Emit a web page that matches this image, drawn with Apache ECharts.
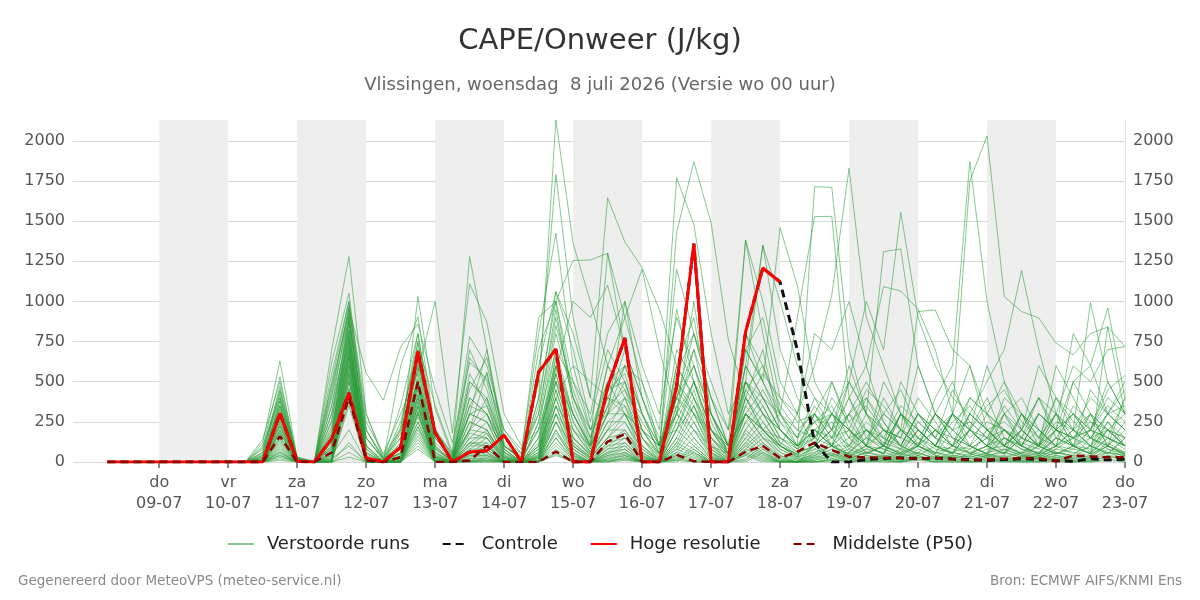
<!DOCTYPE html>
<html>
<head>
<meta charset="utf-8">
<script src="https://cdn.jsdelivr.net/npm/echarts@6/dist/echarts.min.js"></script>
<style>
  html, body { margin: 0; padding: 0; background: #fff; }
  #chart { width: 1200px; height: 600px; }
</style>
</head>
<body>
<div id="chart"></div>
<script>
// tijdstappen: uren na wo 08-07 00 uur, elke 6 uur (06 .. 360)
var hours = [];
for (var i = 0; i < 60; i++) { hours.push(6 + 6 * i); }

// dagtikken (uren) en hun labels
var dayTicks = [24, 48, 72, 96, 120, 144, 168, 192, 216, 240, 264, 288, 312, 336, 360];
var dayLabels = ['do\n09-07', 'vr\n10-07', 'za\n11-07', 'zo\n12-07', 'ma\n13-07', 'di\n14-07', 'wo\n15-07',
  'do\n16-07', 'vr\n17-07', 'za\n18-07', 'zo\n19-07', 'ma\n20-07', 'di\n21-07', 'wo\n22-07', 'do\n23-07'];
var yTicks = [0, 250, 500, 750, 1000, 1250, 1500, 1750, 2000];

// grijze banden (dag, uren)
var bands = [[24, 48], [72, 96], [120, 144], [168, 192], [216, 240], [264, 288], [312, 336]];

// Hoge resolutie (stopt na 18-07 00 uur)
var hogeResolutie = [0,0,0,0,0,0,0,0,0, 0,303,5,0, 145,430,25,0, 92,690,182,0, 62,70,168,0,
  560,703,0,0, 465,772,0,0, 469,1360,0,0, 810,1208,1121];

// Controle
var controle = [0,0,0,0,0,0,0,0,0, 0,303,5,0, 145,430,25,0, 92,690,182,0, 62,70,168,0,
  560,703,0,0, 465,772,0,0, 469,1360,0,0, 810,1208,1121,
  698,118,0,0,15,22,25,20,25,18,15,10,15,20,15,8,5,20,12,18];

// Middelste (P50)
var middelste = [0,0,0,0,0,0,0,0,0, 0,160,0,0, 60,400,10,0, 30,500,0,0, 10,100,0,0,
  0,65,0,0, 127,174,0,0, 44,5,0,0, 64,100,25,64,
  120,75,33,28,25,25,22,25,18,12,15,20,25,22,5,40,35,30,30];

// Verstoorde runs (50 leden)
var verstoordeRuns = [
  [0,0,0,0,0,0,5,10,0, 120,630,25,0, 150,880,60,0, 120,640,90,0, 500,380,60,0, 350,1060,700,250, 700,500,150,0, 600,900,300,50, 400,700,200,80, 300,150,400,600,250,100,300,150,50,200,400,150,100,50,200,300,150,100,250],
  [0,0,0,0,0,0,0,0,0, 90,530,10,0, 700,1280,300,40, 200,500,150,20, 200,560,100,20, 500,1790,900,400, 300,600,500,100, 950,500,200,80, 1380,800,300,100, 200,100,500,300,150,80,200,100,300,600,200,100,50,150,300,100,50,200,150],
  [0,0,0,0,0,0,0,0,0, 140,500,30,5, 620,1050,200,20, 100,1030,330,40, 300,700,150,50, 800,1425,600,200, 400,600,300,50, 1430,1870,1490,760, 400,200,100,300, 100,500,250,100,50,300,150,50,100,200,100,50,150,400,200,100,300,200,100],
  [0,0,0,0,0,0,0,0,0, 60,470,20,0, 350,950,555,385, 717,860,450,120, 620,520,200,80, 300,900,400,150, 500,300,200,100, 300,700,400,100, 600,1350,700,400, 250,100,300,400,200,150,600,300,150,100,300,500,200,100,300,150,200,400,300],
  [0,0,0,0,0,0,0,0,0, 30,440,15,0, 500,1000,100,10, 600,905,200,50, 1280,700,100,10, 400,2130,1360,1000, 600,400,300,100, 400,300,150,50, 700,500,1460,1100, 500,300,200,100,50,200,100,300,150,50,100,200,100,50,150,100,50,100,200],
  [0,0,0,0,0,0,0,0,0, 100,420,10,0, 450,960,250,50, 300,560,1000,180, 1110,870,300,100, 200,600,300,100, 1300,900,500,200, 1770,1480,800,300, 500,300,200,100, 150,100,200,50,100,300,150,100,50,200,100,50,300,150,100,200,100,50,150],
  [0,0,0,0,0,0,0,0,0, 50,400,30,0, 300,870,200,30, 150,740,350,60, 780,600,200,50, 900,1000,1255,1258, 1300,700,400,150, 200,500,300,100, 300,200,150,100, 1715,1710,700,300,200,150,100,300,200,100,50,150,100,300,200,100,50,150,100],
  [0,0,0,0,0,0,0,0,0, 20,380,10,0, 250,920,150,20, 90,620,200,30, 400,300,100,20, 600,1060,800,400, 1645,1370,1210,950, 600,400,200,100, 300,200,300,900, 1528,1530,400,200,100,300,200,100,50,200,150,100,200,100,50,100,200,150,100],
  [0,0,0,0,0,0,0,0,0, 0,350,20,0, 200,800,100,0, 60,700,150,20, 200,400,80,0, 250,700,500,300, 800,1000,400,100, 1200,800,400,200, 1383,1000,500,300, 600,1040,1830,900,600,300,200,100,300,200,100,50,200,100,50,100,150,200,100],
  [0,0,0,0,0,0,0,0,0, 40,330,10,0, 150,750,80,0, 200,800,100,10, 300,250,100,20, 700,1000,400,200, 300,1000,600,300, 900,600,300,100, 500,1350,1000,600, 400,300,500,300,1310,1327,600,300,200,400,300,200,100,300,200,150,300,200,100],
  [0,0,0,0,0,0,0,0,0, 0,300,0,0, 100,700,150,20, 50,650,100,0, 650,500,80,0, 150,560,1000,900, 1100,700,300,100, 400,800,500,200, 700,900,400,300, 800,700,1000,600,1092,1065,950,700,300,200,100,50,150,100,200,300,150,100,50],
  [0,0,0,0,0,0,0,0,0, 20,280,10,0, 80,650,50,0, 100,500,80,0, 500,400,100,30, 200,500,300,100, 600,900,1200,700, 300,200,100,50, 800,500,300,200, 300,200,500,1000,700,1555,900,600,400,300,200,100,300,200,100,50,100,200,150],
  [0,0,0,0,0,0,0,0,0, 0,250,0,0, 60,600,30,0, 30,450,50,0, 350,300,50,0, 100,400,600,500, 400,300,200,100, 500,300,200,100, 300,200,100,50, 100,300,200,100,50,200,937,947,700,600,300,200,100,50,100,200,300,100,50],
  [0,0,0,0,0,0,0,0,0, 10,230,5,0, 40,550,20,0, 20,400,30,0, 250,200,30,0, 80,350,200,100, 300,500,200,50, 400,600,300,100, 500,300,200,100, 200,100,300,500,300,200,100,400,600,1871,1000,500,300,200,100,150,200,100,50],
  [0,0,0,0,0,0,0,0,0, 0,200,0,0, 20,500,10,0, 10,350,20,0, 180,150,20,0, 50,300,150,50, 200,400,150,50, 300,500,200,50, 400,200,100,50, 150,300,200,100,500,300,200,100,300,1750,2031,1030,937,897,740,667,800,840,720],
  [0,0,0,0,0,0,0,0,0, 0,180,0,0, 10,450,0,0, 0,300,10,0, 120,100,10,0, 30,250,100,30, 150,300,100,0, 200,350,150,30, 300,150,100,30, 100,200,100,300,200,100,300,200,100,300,500,700,1192,700,300,200,400,300,200],
  [0,0,0,0,0,0,0,0,0, 30,350,10,0, 180,900,80,0, 50,600,60,0, 300,350,60,10, 100,650,300,100, 450,500,200,50, 600,400,150,50, 800,600,300,150, 400,200,600,300,100,200,100,50,300,200,600,300,100,200,100,500,300,100,400],
  [0,0,0,0,0,0,0,0,0, 0,320,0,0, 120,850,30,0, 20,550,40,0, 200,300,40,0, 60,600,250,80, 350,450,150,30, 500,350,100,20, 700,500,250,100, 300,500,200,100,400,200,100,300,500,200,100,300,200,100,600,400,200,500,300],
  [0,0,0,0,0,0,0,0,0, 10,300,5,0, 90,820,20,0, 10,500,30,0, 150,250,30,0, 40,550,200,60, 300,400,100,20, 450,300,80,10, 600,400,200,80, 200,100,100,200,100,500,300,200,100,400,300,100,200,600,400,200,100,300,500],
  [0,0,0,0,0,0,0,0,0, 0,270,0,0, 50,780,10,0, 0,480,20,0, 120,200,20,0, 30,500,150,40, 250,350,80,10, 400,250,60,0, 500,350,150,60, 100,300,200,100,50,300,200,100,300,200,100,400,300,100,200,800,600,300,200],
  [0,0,0,0,0,0,0,0,0, 0,240,0,0, 30,720,0,0, 0,420,10,0, 100,180,10,0, 20,450,120,30, 200,300,60,0, 350,200,50,0, 450,300,120,40, 200,150,300,100,200,100,50,200,100,300,200,100,50,100,300,200,993,500,300],
  [0,0,0,0,0,0,0,0,0, 0,220,0,0, 20,680,0,0, 0,380,0,0, 80,150,0,0, 10,400,100,20, 150,250,50,0, 300,150,30,0, 400,250,100,30, 300,100,50,200,100,300,100,200,300,100,50,200,100,300,200,500,600,959,400],
  [0,0,0,0,0,0,0,0,0, 0,200,0,0, 10,650,0,0, 0,350,0,0, 60,120,0,0, 0,350,80,10, 120,200,40,0, 250,120,20,0, 350,200,80,20, 100,200,300,200,100,50,200,100,50,300,200,100,200,400,300,600,500,700,718],
  [0,0,0,0,0,0,0,0,0, 0,180,0,0, 0,620,0,0, 0,320,0,0, 50,100,0,0, 0,300,60,0, 100,180,30,0, 200,100,10,0, 300,150,60,10, 50,100,50,100,300,200,100,50,200,100,50,300,150,100,400,300,200,450,540],
  [0,0,0,0,0,0,0,0,0, 0,150,0,0, 0,580,0,0, 0,300,0,0, 40,80,0,0, 0,250,50,0, 80,150,20,0, 150,80,0,0, 250,120,40,0, 100,50,100,50,100,50,100,200,100,50,100,200,100,50,150,100,50,843,300],
  [0,0,0,0,0,0,0,0,0, 0,130,0,0, 0,540,0,0, 0,250,0,0, 30,60,0,0, 0,200,40,0, 60,120,10,0, 120,60,0,0, 200,100,30,0, 80,40,60,150,80,40,100,60,30,80,150,60,30,100,50,80,200,150,100],
  [0,0,0,0,0,0,0,0,0, 0,110,0,0, 0,500,0,0, 0,220,0,0, 20,50,0,0, 0,180,30,0, 50,100,0,0, 100,50,0,0, 180,80,20,0, 60,100,40,80,200,100,50,30,100,60,40,150,80,40,100,200,100,50,150],
  [0,0,0,0,0,0,0,0,0, 0,90,0,0, 0,460,0,0, 0,200,0,0, 10,40,0,0, 0,150,20,0, 40,80,0,0, 80,40,0,0, 150,60,10,0, 40,80,150,60,30,80,40,100,60,30,200,100,50,30,80,150,60,250,100],
  [0,0,0,0,0,0,0,0,0, 0,80,0,0, 0,420,0,0, 0,180,0,0, 0,30,0,0, 0,120,10,0, 30,60,0,0, 60,30,0,0, 120,50,0,0, 30,50,20,60,100,50,30,20,60,100,50,30,60,120,60,30,100,60,40],
  [0,0,0,0,0,0,0,0,0, 0,70,0,0, 0,380,0,0, 0,160,0,0, 0,20,0,0, 0,100,0,0, 20,50,0,0, 50,20,0,0, 100,40,0,0, 20,40,80,40,20,60,100,40,20,50,30,80,40,20,60,40,150,80,50],
  [0,0,0,0,0,0,0,0,0, 0,60,0,0, 0,350,0,0, 0,140,0,0, 0,10,0,0, 0,80,0,0, 10,40,0,0, 40,10,0,0, 80,30,0,0, 10,30,50,20,40,30,60,20,40,30,50,20,30,60,40,20,40,100,60],
  [0,0,0,0,0,0,0,0,0, 0,50,0,0, 0,120,0,0, 0,120,0,0, 0,0,0,0, 0,60,0,0, 0,30,0,0, 30,0,0,0, 60,20,0,0, 0,20,40,10,30,20,40,10,30,20,40,10,20,40,30,10,30,60,40],
  [0,0,0,0,0,0,0,0,0, 0,40,0,0, 0,60,0,0, 0,100,0,0, 0,0,0,0, 0,50,0,0, 0,20,0,0, 20,0,0,0, 50,10,0,0, 0,10,30,0,20,10,30,0,20,10,30,0,10,30,20,0,20,40,30],
  [0,0,0,0,0,0,0,0,0, 0,30,0,0, 0,30,0,0, 0,80,0,0, 0,0,0,0, 0,40,0,0, 0,10,0,0, 10,0,0,0, 40,0,0,0, 0,0,20,0,10,0,20,0,10,0,20,0,0,20,10,0,10,30,20],
  [0,0,0,0,0,0,0,0,0, 60,450,20,0, 400,900,150,10, 250,700,150,30, 700,450,80,0, 400,1000,500,200, 500,600,300,50, 700,500,200,50, 500,400,200,100, 250,300,150,400,250,100,300,150,450,250,150,350,200,400,150,300,200,350,250],
  [0,0,0,0,0,0,0,0,0, 80,400,10,0, 550,1000,300,20, 350,800,200,40, 450,650,150,30, 300,950,350,100, 350,700,400,100, 300,1000,300,50, 600,400,300,150, 350,200,400,150,300,450,200,100,250,350,200,100,300,150,400,250,150,300,450],
  [0,0,0,0,0,0,0,0,0, 20,380,0,0, 480,930,100,0, 180,650,80,10, 550,350,60,0, 250,850,450,150, 450,550,200,30, 550,800,400,100, 450,600,350,200, 150,400,250,350,200,150,400,250,100,200,350,450,250,150,300,100,450,300,350],
  [0,0,0,0,0,0,0,0,0, 40,350,10,0, 420,970,200,10, 220,750,120,20, 350,550,120,10, 200,800,400,120, 600,450,250,80, 400,700,250,50, 350,550,400,250, 300,150,200,450,350,200,150,300,200,250,150,300,400,200,100,350,250,150,400],
  [0,0,0,0,0,0,0,0,0, 10,300,0,0, 350,820,60,0, 150,580,60,0, 400,300,40,0, 150,700,300,80, 400,350,150,20, 350,600,200,30, 300,450,250,150, 250,350,150,200,150,350,250,150,300,150,250,200,150,300,200,150,250,200,300],
  [0,0,0,0,0,0,0,0,0, 0,260,0,0, 300,780,40,0, 120,520,40,0, 300,250,30,0, 120,650,250,60, 300,300,100,10, 250,500,150,20, 250,400,200,100, 200,300,100,250,150,100,300,200,150,100,200,250,150,100,250,200,150,300,200],
  [0,0,0,0,0,0,0,0,0, 0,220,0,0, 260,760,30,0, 100,480,30,0, 250,200,20,0, 100,600,200,50, 250,250,80,0, 200,450,120,10, 200,350,150,80, 150,250,80,200,120,80,250,150,100,80,150,200,120,80,200,150,100,250,150],
  [0,0,0,0,0,0,0,0,0, 0,190,0,0, 220,730,20,0, 80,450,20,0, 200,180,10,0, 80,550,150,40, 200,200,60,0, 150,400,100,0, 150,300,120,60, 100,200,60,150,100,60,200,100,80,60,100,150,80,60,150,100,80,200,100],
  [0,0,0,0,0,0,0,0,0, 0,160,0,0, 180,700,10,0, 60,420,10,0, 150,150,10,0, 60,500,120,30, 150,180,40,0, 120,350,80,0, 120,250,100,40, 80,150,40,100,80,40,150,80,60,40,80,100,60,40,100,80,60,150,80],
  [0,0,0,0,0,0,0,0,0, 0,140,0,0, 150,680,0,0, 40,400,0,0, 120,120,0,0, 40,450,100,20, 120,150,30,0, 100,300,60,0, 100,200,80,30, 60,120,30,80,60,30,120,60,40,30,60,80,40,30,80,60,40,120,60],
  [0,0,0,0,0,0,0,0,0, 0,120,0,0, 120,650,0,0, 30,370,0,0, 100,100,0,0, 30,400,80,10, 100,120,20,0, 80,250,40,0, 80,180,60,20, 40,100,20,60,40,20,100,40,30,20,40,60,30,20,60,40,30,100,40],
  [0,0,0,0,0,0,0,0,0, 0,100,0,0, 100,600,0,0, 20,340,0,0, 80,80,0,0, 20,350,60,0, 80,100,10,0, 60,200,30,0, 60,150,40,10, 30,80,10,40,30,10,80,30,20,10,30,40,20,10,40,30,20,80,30],
  [0,0,0,0,0,0,0,0,0, 0,60,0,0, 80,560,0,0, 10,310,0,0, 60,60,0,0, 10,300,40,0, 60,80,0,0, 40,150,20,0, 40,120,20,0, 20,60,0,30,20,0,60,20,10,0,20,30,10,0,30,20,10,60,20],
  [0,0,0,0,0,0,0,0,0, 0,40,0,0, 60,520,0,0, 0,280,0,0, 40,40,0,0, 0,250,20,0, 40,60,0,0, 20,100,10,0, 20,100,10,0, 10,40,0,20,10,0,40,10,0,0,10,20,0,0,20,10,0,40,10],
  [0,0,0,0,0,0,0,0,0, 0,20,0,0, 40,200,0,0, 0,250,0,0, 20,20,0,0, 0,200,10,0, 20,40,0,0, 10,80,0,0, 10,80,0,0, 0,20,0,10,0,0,20,0,0,0,0,10,0,0,10,0,0,20,0],
  [0,0,0,0,0,0,0,0,0, 0,10,0,0, 20,100,0,0, 0,220,0,0, 10,10,0,0, 0,150,0,0, 10,20,0,0, 0,60,0,0, 0,60,0,0, 0,10,0,0,0,0,10,0,0,0,0,0,0,0,0,0,0,10,0]
];

var FONT = 'DejaVu Sans';

function pairs(vals) {
  return vals.map(function (v, i) { return [hours[i], v]; });
}

var chart = echarts.init(document.getElementById('chart'), null, { renderer: 'canvas' });

var series = [];

// grijze dagbanden
series.push({
  type: 'line',
  data: [],
  z: 0,
  silent: true,
  markArea: {
    silent: true,
    itemStyle: { color: '#eeeeee' },
    data: bands.map(function (b) { return [{ xAxis: b[0] }, { xAxis: b[1] }]; })
  }
});

verstoordeRuns.forEach(function (m) {
  series.push({
    name: 'Verstoorde runs',
    type: 'line',
    data: pairs(m),
    symbol: 'none',
    silent: true,
    z: 2,
    lineStyle: { width: 1, color: 'rgba(40,155,55,0.55)' },
    itemStyle: { color: 'rgba(40,155,55,0.55)' }
  });
});

series.push({
  name: 'Controle',
  type: 'line',
  data: pairs(controle),
  symbol: 'none',
  z: 3,
  lineStyle: { width: 3, color: '#111111', type: [8, 5] },
  itemStyle: { color: '#111111' }
});

series.push({
  name: 'Hoge resolutie',
  type: 'line',
  data: pairs(hogeResolutie),
  symbol: 'none',
  z: 4,
  lineStyle: { width: 3, color: '#ff0000' },
  itemStyle: { color: '#ff0000' }
});

series.push({
  name: 'Middelste (P50)',
  type: 'line',
  data: pairs(middelste),
  symbol: 'none',
  z: 5,
  lineStyle: { width: 2.5, color: '#8b0000', type: [8, 5] },
  itemStyle: { color: '#8b0000' }
});

var option = {
  animation: false,
  backgroundColor: '#ffffff',
  textStyle: { fontFamily: FONT },
  title: [
    {
      text: 'CAPE/Onweer (J/kg)',
      left: 'center',
      top: 22,
      textStyle: { fontFamily: FONT, fontSize: 29, fontWeight: 'normal', color: '#333333' }
    },
    {
      text: 'Vlissingen, woensdag  8 juli 2026 (Versie wo 00 uur)',
      left: 'center',
      top: 71,
      textStyle: { fontFamily: FONT, fontSize: 18, fontWeight: 'normal', color: '#666666' }
    },
    {
      text: 'Gegenereerd door MeteoVPS (meteo-service.nl)',
      left: 13,
      top: 569,
      textStyle: { fontFamily: FONT, fontSize: 13.5, fontWeight: 'normal', color: '#888888' }
    },
    {
      text: 'Bron: ECMWF AIFS/KNMI Ens',
      right: 13,
      top: 569,
      textStyle: { fontFamily: FONT, fontSize: 13.5, fontWeight: 'normal', color: '#888888' }
    }
  ],
  legend: {
    data: ['Verstoorde runs', 'Controle', 'Hoge resolutie', 'Middelste (P50)'],
    left: 'center',
    top: 530,
    itemWidth: 26,
    itemHeight: 12,
    itemGap: 32,
    itemStyle: { opacity: 0 },
    textStyle: { fontFamily: FONT, fontSize: 18, color: '#222222', padding: [0, 0, 0, 8] }
  },
  grid: { left: 73, right: 75, top: 120, bottom: 138, containLabel: false },
  xAxis: {
    type: 'value',
    min: -6,
    max: 360,
    axisLine: { show: false },
    splitLine: { show: false },
    axisTick: {
      show: true,
      customValues: dayTicks,
      length: 6,
      lineStyle: { color: '#666666', width: 1.5 }
    },
    axisLabel: {
      customValues: dayTicks,
      color: '#555555',
      fontSize: 16,
      lineHeight: 21,
      margin: 10,
      formatter: function (v) {
        var k = dayTicks.indexOf(v);
        return k >= 0 ? dayLabels[k] : '';
      }
    }
  },
  yAxis: [
    {
      type: 'value',
      position: 'left',
      min: 0,
      max: 2130,
      axisLine: { show: false },
      axisTick: { show: false, customValues: yTicks },
      axisLabel: {
        customValues: yTicks, color: '#555555', fontSize: 16, margin: 8,
        formatter: function (v) { return String(v); }
      },
      splitLine: { show: true, lineStyle: { color: '#d8d8d8', width: 1 } }
    },
    {
      type: 'value',
      position: 'right',
      min: 0,
      max: 2130,
      axisLine: { show: true, lineStyle: { color: '#e4e4e4', width: 1 } },
      axisTick: { show: false, customValues: yTicks },
      axisLabel: {
        customValues: yTicks, color: '#555555', fontSize: 16, margin: 8,
        formatter: function (v) { return String(v); }
      },
      splitLine: { show: false }
    }
  ],
  series: series
};

chart.setOption(option);
</script>
</body>
</html>
